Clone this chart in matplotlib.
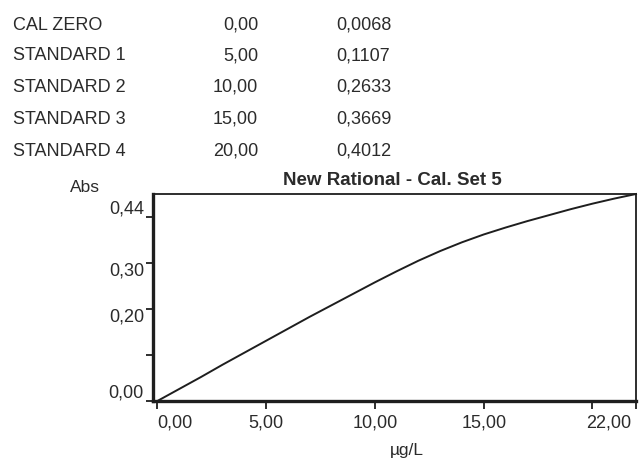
import matplotlib
matplotlib.use("Agg")
import matplotlib.pyplot as plt
from matplotlib.transforms import ScaledTranslation

plt.rcParams['font.family'] = ['Liberation Sans', 'DejaVu Sans']

# Calibration table
std_names = ["CAL ZERO", "STANDARD 1", "STANDARD 2", "STANDARD 3", "STANDARD 4"]
std_conc = ["0,00", "5,00", "10,00", "15,00", "20,00"]
std_abs = ["0,0068", "0,1107", "0,2633", "0,3669", "0,4012"]

# Fitted curve (µg/L vs Abs)
curve_x = [0, 1, 2, 3, 4, 5, 6, 7, 8, 9, 10, 11, 12, 13, 14, 15, 16, 17, 18, 19, 20, 21, 22]
curve_y = [0.0, 0.026, 0.052, 0.079, 0.105, 0.131, 0.157, 0.183, 0.208, 0.233, 0.258,
           0.282, 0.305, 0.326, 0.345, 0.362, 0.377, 0.391, 0.404, 0.417, 0.429, 0.440, 0.450]

x_ticks = [0, 5, 10, 15, 20, 22]
x_labels = ["0,00", "5,00", "10,00", "15,00", "", "22,00"]
y_ticks = [0, 0.1, 0.2, 0.3, 0.4]
y_labels = ["0,00", "", "0,20", "0,30", "0,44"]

W, H = 639, 463
fig = plt.figure(figsize=(W / 100, H / 100), dpi=100)
fig.patch.set_facecolor("white")

def fx(px):
    return px / W

def fy(py):
    return 1 - py / H

txt_col = "#2b2b2b"
row_y = [25, 56, 87, 119, 151]
for name, conc, ab, ry in zip(std_names, std_conc, std_abs, row_y):
    fig.text(fx(13), fy(ry), name, ha="left", va="center", fontsize=13, color=txt_col)
    fig.text(fx(258), fy(ry), conc, ha="right", va="center", fontsize=13, color=txt_col)
    fig.text(fx(336), fy(ry), ab, ha="left", va="center", fontsize=13, color=txt_col)

ax = fig.add_axes([fx(153), fy(401), fx(636) - fx(153), fy(194) - fy(401)])
ax.plot(curve_x, curve_y, color="#1e1e1e", lw=1.4, clip_on=False)
ax.set_xlim(-0.2, 22)
ax.set_ylim(0, 0.45)

for side, lw in (("left", 2.4), ("bottom", 2.4), ("top", 1.3), ("right", 1.3)):
    ax.spines[side].set_linewidth(lw)
    ax.spines[side].set_color("#1e1e1e")

ax.set_xticks(x_ticks)
ax.set_xticklabels(x_labels)
ax.set_yticks(y_ticks)
ax.set_yticklabels(y_labels)
ax.tick_params(axis="x", direction="out", length=6, width=1.3, pad=3.5,
               labelsize=13, labelcolor=txt_col, color="#1e1e1e")
ax.tick_params(axis="y", direction="out", length=5, width=1.3, pad=1.5,
               labelsize=13, labelcolor=txt_col, color="#1e1e1e")

x_ha = ["left", "center", "center", "center", "center", "right"]
for lab, ha in zip(ax.get_xticklabels(), x_ha):
    lab.set_ha(ha)
last = ax.get_xticklabels()[-1]
last.set_transform(last.get_transform() + ScaledTranslation(-5 / 100, 0, fig.dpi_scale_trans))
y_va = ["bottom", "center", "top", "top", "bottom"]
for lab, va in zip(ax.get_yticklabels(), y_va):
    lab.set_va(va)

fig.text(fx(85), fy(187), "Abs", ha="center", va="center", fontsize=12.5, color=txt_col)
fig.text(fx(392), fy(180), "New Rational - Cal. Set 5", ha="center", va="center",
         fontsize=13.5, fontweight="bold", color=txt_col)
fig.text(fx(407), fy(451), "µg/L", ha="center", va="center", fontsize=12.5, color=txt_col)

fig.savefig("out.png", dpi=100, facecolor="white")
